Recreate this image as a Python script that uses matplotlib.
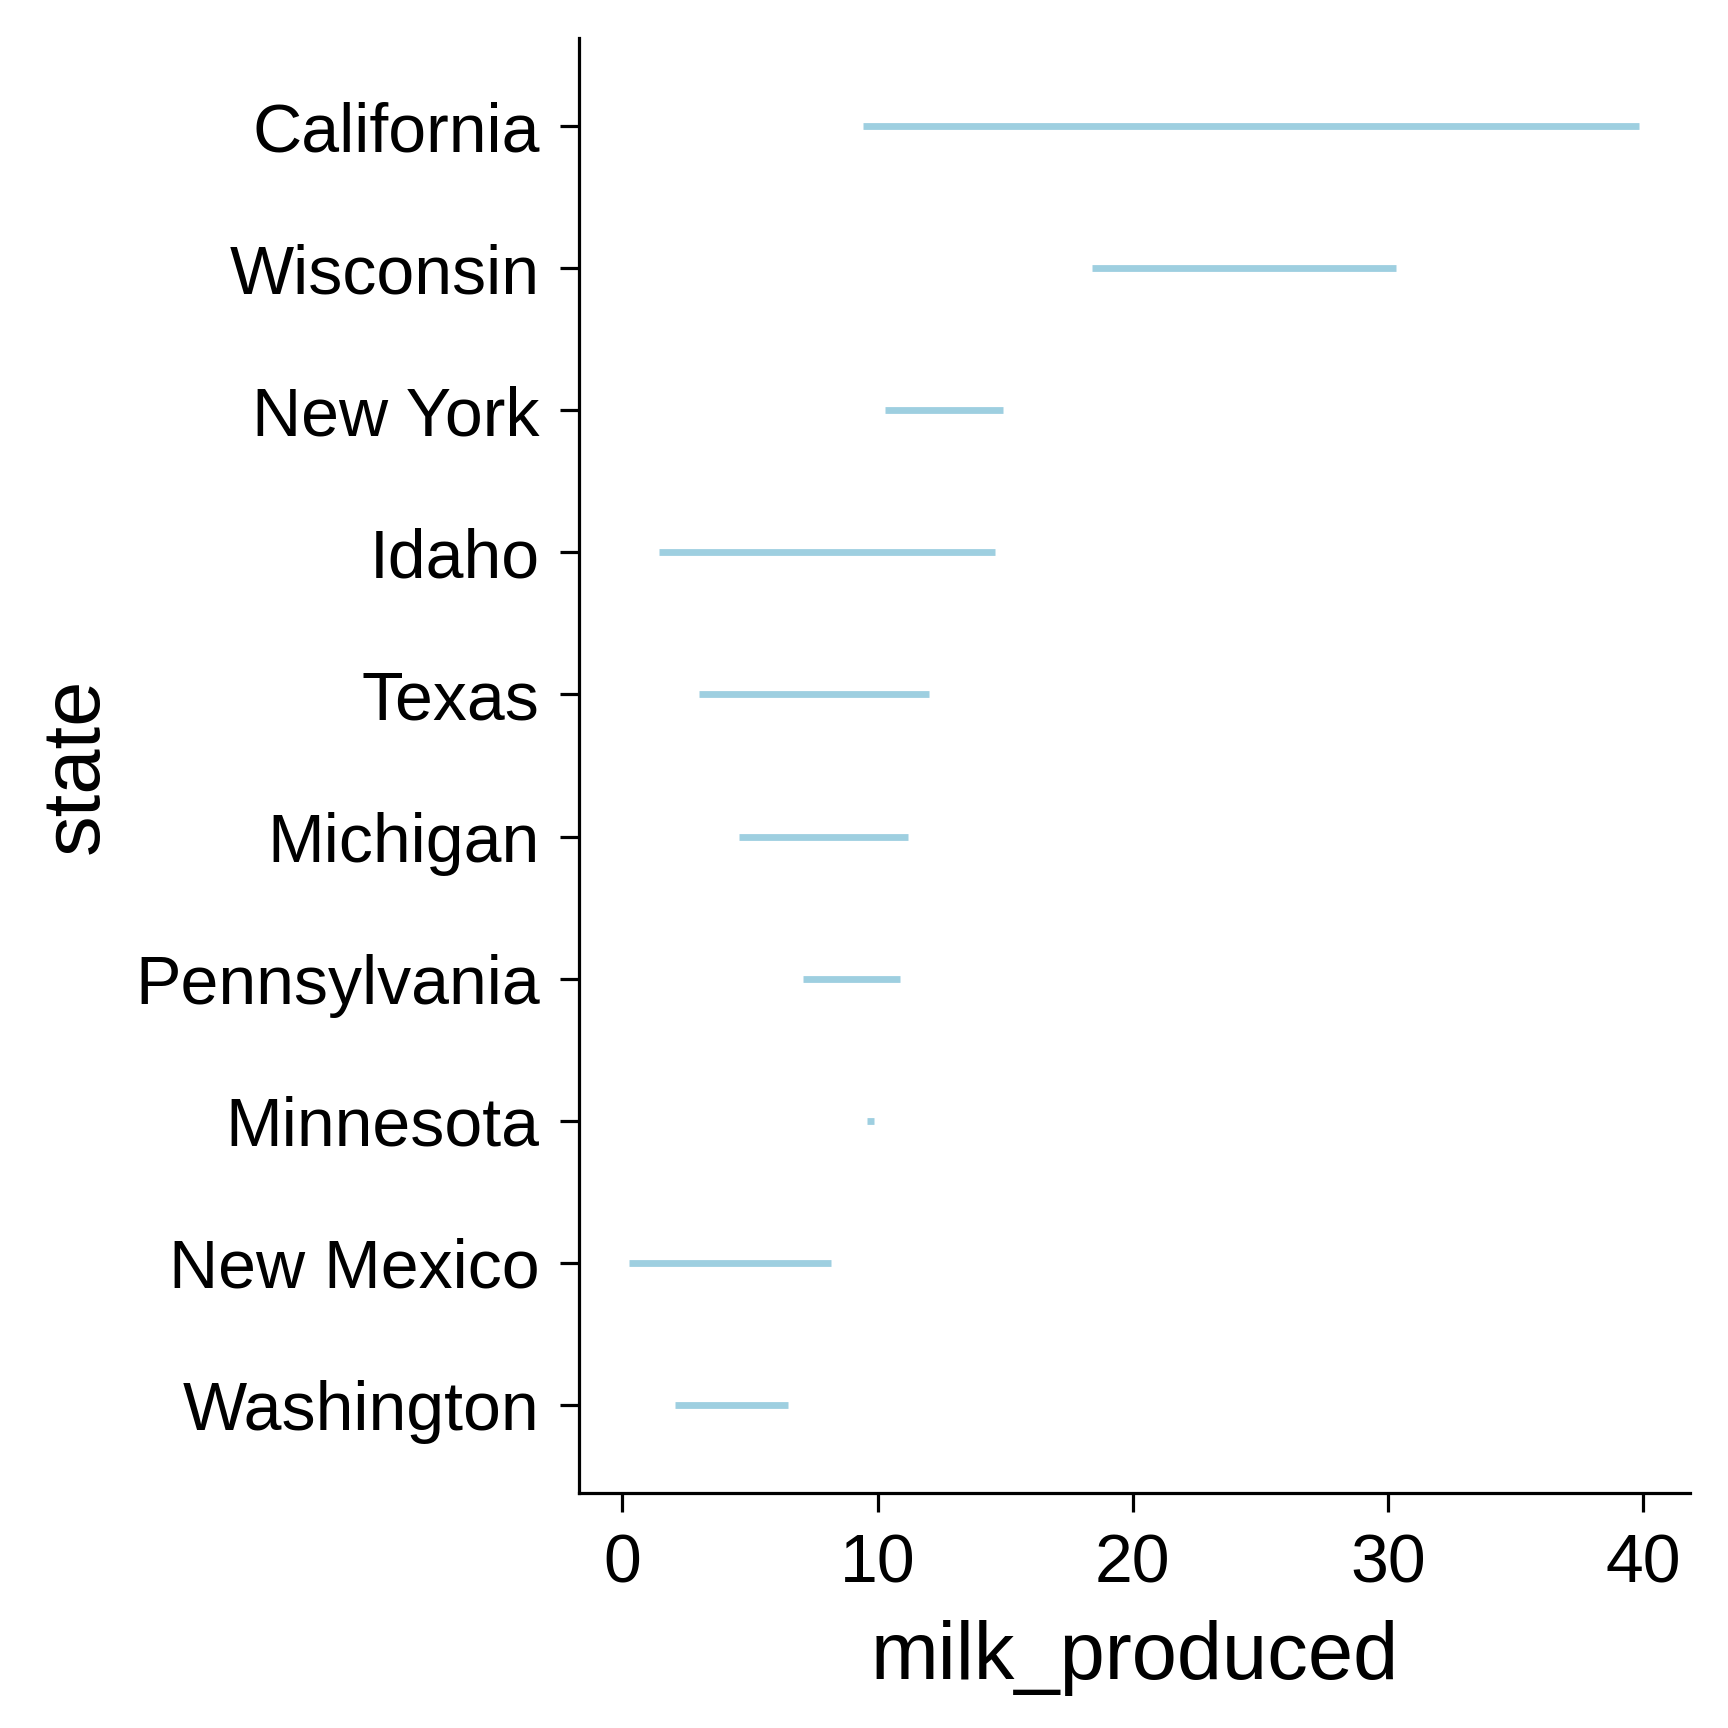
import matplotlib
matplotlib.use("Agg")
import matplotlib.pyplot as plt

plt.rcParams['font.family'] = ['Liberation Sans', 'DejaVu Sans']

# state order top to bottom, range of milk_produced per state
states = ["California", "Wisconsin", "New York", "Idaho", "Texas",
          "Michigan", "Pennsylvania", "Minnesota", "New Mexico", "Washington"]
milk_min = [9.43, 18.4, 10.3, 1.45, 3.0, 4.58, 7.1, 9.6, 0.28, 2.08]
milk_max = [39.85, 30.3, 14.9, 14.6, 12.0, 11.2, 10.9, 9.85, 8.18, 6.5]

fig = plt.figure(figsize=(6, 6), dpi=288)
ax = fig.add_axes([0.335, 0.136, 0.643, 0.842])

ypos = list(range(len(states)))[::-1]
ax.hlines(ypos, milk_min, milk_max, color='#9ecfe0', linewidth=1.7)

ax.set_ylim(-0.62, len(states) - 1 + 0.62)
ax.set_yticks(ypos)
ax.set_yticklabels(states)
ax.set_xticks([0, 10, 20, 30, 40])

for side in ['top', 'right']:
    ax.spines[side].set_visible(False)
for side in ['left', 'bottom']:
    ax.spines[side].set_linewidth(0.8)

ax.tick_params(axis='both', labelsize=17, length=4.8, width=0.8, pad=5, colors='black')
ax.set_xlabel("milk_produced", fontsize=20.3, labelpad=6)
ax.set_ylabel("state", fontsize=20.3, labelpad=5)

fig.savefig("out.png", dpi=288)
